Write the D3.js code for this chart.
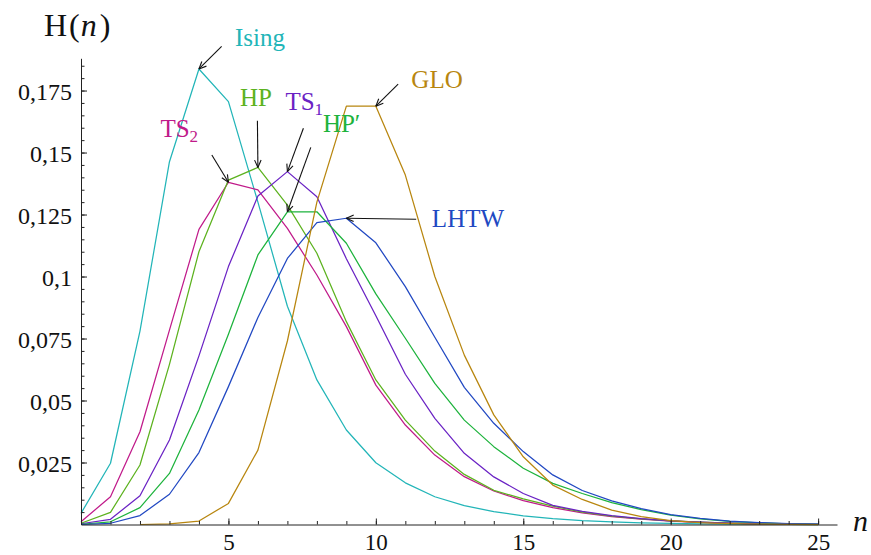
<!DOCTYPE html>
<html>
<head>
<meta charset="utf-8">
<script src="https://cdn.jsdelivr.net/npm/d3@7"></script>
<style>
  html, body { margin: 0; padding: 0; background: #fff; }
  svg { display: block; font-family: "Liberation Serif", "Times New Roman", serif; }
</style>
</head>
<body>
<svg id="chart" width="871" height="555"></svg>
<script>
// ---------- data ----------
const nValues = d3.range(0, 26);               // n = 0 .. 25
const nGLO = d3.range(2, 26);                  // GLO curve starts at n = 2

const ising = [0.0045, 0.0247, 0.0780, 0.1463, 0.1837, 0.1705, 0.1300, 0.0880, 0.0583, 0.0381,
               0.0249, 0.0168, 0.0112, 0.0076, 0.0052, 0.0035, 0.0024, 0.0016, 0.0011, 0.0007,
               0.0005, 0.0003, 0.0002, 0.0001, 0.0001, 0.0000];
const ts2   = [0.0011, 0.0112, 0.0374, 0.0784, 0.1190, 0.1380, 0.1349, 0.1194, 0.1006, 0.0798,
               0.0562, 0.0401, 0.0280, 0.0193, 0.0135, 0.0096, 0.0068, 0.0047, 0.0032, 0.0022,
               0.0014, 0.0009, 0.0006, 0.0003, 0.0002, 0.0001];
const hp    = [0.0005, 0.0049, 0.0240, 0.0646, 0.1100, 0.1389, 0.1440, 0.1288, 0.1094, 0.0818,
               0.0583, 0.0421, 0.0296, 0.0202, 0.0138, 0.0103, 0.0074, 0.0050, 0.0034, 0.0023,
               0.0015, 0.0010, 0.0006, 0.0003, 0.0002, 0.0001];
const ts1   = [0.0003, 0.0021, 0.0116, 0.0341, 0.0680, 0.1040, 0.1325, 0.1423, 0.1322, 0.1072,
               0.0842, 0.0606, 0.0428, 0.0287, 0.0192, 0.0125, 0.0077, 0.0053, 0.0036, 0.0024,
               0.0015, 0.0010, 0.0006, 0.0003, 0.0002, 0.0001];
const hpPrime = [0.0001, 0.0011, 0.0068, 0.0206, 0.0462, 0.0767, 0.1087, 0.1261, 0.1261, 0.1134,
               0.0930, 0.0751, 0.0569, 0.0421, 0.0314, 0.0227, 0.0166, 0.0125, 0.0088, 0.0060,
               0.0038, 0.0023, 0.0013, 0.0007, 0.0003, 0.0001];
const lhtw  = [0.0000, 0.0005, 0.0036, 0.0122, 0.0290, 0.0556, 0.0835, 0.1073, 0.1217, 0.1235,
               0.1136, 0.0959, 0.0755, 0.0553, 0.0408, 0.0294, 0.0200, 0.0137, 0.0095, 0.0064,
               0.0040, 0.0025, 0.0014, 0.0008, 0.0004, 0.0002];
const glo   = [0.0000, 0.0003, 0.0014, 0.0085, 0.0300, 0.0740, 0.1300, 0.1687, 0.1687, 0.1409,
               0.1000, 0.0683, 0.0442, 0.0273, 0.0159, 0.0101, 0.0058, 0.0032, 0.0016, 0.0008,
               0.0004, 0.0002, 0.0001, 0.0000];

const xMajorTicks = [5, 10, 15, 20, 25];
const xMinorTicks = d3.range(1, 26);
const yMajorTicks = [0.025, 0.05, 0.075, 0.1, 0.125, 0.15, 0.175];
const yTickLabels = ["0,025", "0,05", "0,075", "0,1", "0,125", "0,15", "0,175"];
const yMinorTicks = d3.range(1, 38).map(i => i * 0.005);

const seriesNames = ["Ising", "TS2", "HP", "TS1", "HP'", "LHTW", "GLO"];
// ------------------------------------------------------------

const series = [
  { key: "Ising", xs: nValues, ys: ising,   color: "#22b5b8" },
  { key: "TS2",   xs: nValues, ys: ts2,     color: "#c01a8a" },
  { key: "HP",    xs: nValues, ys: hp,      color: "#5cb21e" },
  { key: "TS1",   xs: nValues, ys: ts1,     color: "#6a22c4" },
  { key: "HP'",   xs: nValues, ys: hpPrime, color: "#1db33c" },
  { key: "LHTW",  xs: nValues, ys: lhtw,    color: "#2148c2" },
  { key: "GLO",   xs: nGLO,    ys: glo,     color: "#b8860f" }
];

const svg = d3.select("#chart");
const x = d3.scaleLinear().domain([0, 25.64]).range([81, 837]);
const y = d3.scaleLinear().domain([0, 0.188]).range([524.5, 58.3]);

// curves
const line = d3.line().x(d => x(d[0])).y(d => y(d[1]));
const gLines = svg.append("g");
series.forEach(s => {
  gLines.append("path")
    .datum(s.xs.map((n, i) => [n, s.ys[i]]))
    .attr("d", line)
    .attr("fill", "none")
    .attr("stroke", s.color)
    .attr("stroke-width", 1.25)
    .attr("stroke-linejoin", "round");
});

// axes
const axisColor = "#222";
const gx = svg.append("g").attr("transform", `translate(0,${y(0)})`);
gx.call(d3.axisBottom(x).tickValues(xMinorTicks).tickFormat("").tickSize(-3.5).tickSizeOuter(0));
gx.append("g").call(d3.axisBottom(x).tickValues(xMajorTicks).tickFormat(d3.format("d"))
    .tickSize(-6).tickSizeOuter(0).tickPadding(9))
  .call(g => g.select(".domain").remove());
const gy = svg.append("g").attr("transform", `translate(${x(0)},0)`);
gy.call(d3.axisLeft(y).tickValues(yMinorTicks).tickFormat("").tickSize(-3.5).tickSizeOuter(0));
gy.append("g").call(d3.axisLeft(y).tickValues(yMajorTicks)
    .tickFormat((d, i) => yTickLabels[i]).tickSize(-6).tickSizeOuter(0).tickPadding(9))
  .call(g => g.select(".domain").remove());

svg.selectAll(".domain, .tick line").attr("stroke", axisColor).attr("stroke-width", 1);
svg.selectAll(".tick text")
  .attr("fill", "#111")
  .style("font-family", "'Liberation Serif', serif")
  .style("font-size", "24px");
gx.selectAll(".tick text").style("font-size", "23px");
gy.selectAll(".tick text").attr("dy", "0.38em");

// axis titles
const title = svg.append("text").attr("x", 44).attr("y", 36)
  .attr("fill", "#111").style("font-size", "32px");
title.append("tspan").text("H");
title.append("tspan").attr("dx", 2).text("(");
title.append("tspan").attr("dx", 1).style("font-style", "italic").text("n");
title.append("tspan").attr("dx", 3).text(")");
svg.append("text").attr("x", 853).attr("y", 531)
  .attr("fill", "#111").style("font-size", "30px").style("font-style", "italic").text("n");

// annotations: arrow from a tail offset to the marked point of each curve
const annotations = [
  { key: "Ising", n: 4,  tail: [22.7, -22.5], label: [36, -22.5],  text: ["Ising"] },
  { key: "TS2",   n: 5,  tail: [-16.6, -27.3], label: [-68, -45.5], text: ["TS", "2"] },
  { key: "HP",    n: 6,  tail: [-0.5, -46.6], label: [-18, -61],   text: ["HP"] },
  { key: "TS1",   n: 7,  tail: [16, -43.4],   label: [-2, -61.5],  text: ["TS", "1"] },
  { key: "HP'",   n: 7,  tail: [23.4, -64.4], label: [35.5, -79.5], text: ["HP\u2032"] },
  { key: "GLO",   n: 10, tail: [22.3, -22.1], label: [35.5, -17.8], text: ["GLO"] },
  { key: "LHTW",  n: 9,  tail: [69.8, 1.0],   label: [85.5, 8.5],  text: ["LHTW"] }
];
const gAnn = svg.append("g");
annotations.forEach(a => {
  const s = series.find(t => t.key === a.key);
  const i = s.xs.indexOf(a.n);
  const tx = x(a.n), ty = y(s.ys[i]);
  const sx = tx + a.tail[0], sy = ty + a.tail[1];
  gAnn.append("line").attr("x1", sx).attr("y1", sy).attr("x2", tx).attr("y2", ty)
    .attr("stroke", "#111").attr("stroke-width", 1.1);
  const ang = Math.atan2(ty - sy, tx - sx);
  const L = 8, w = 0.42;
  [ang + Math.PI - w, ang + Math.PI + w].forEach(b => {
    gAnn.append("line").attr("x1", tx).attr("y1", ty)
      .attr("x2", tx + L * Math.cos(b)).attr("y2", ty + L * Math.sin(b))
      .attr("stroke", "#111").attr("stroke-width", 1.1);
  });
  const t = gAnn.append("text").attr("x", tx + a.label[0]).attr("y", ty + a.label[1])
    .attr("fill", s.color).style("font-size", "25px");
  t.append("tspan").text(a.text[0]);
  if (a.text[1]) t.append("tspan").attr("dy", 5).style("font-size", "17px").text(a.text[1]);
});
</script>
</body>
</html>
